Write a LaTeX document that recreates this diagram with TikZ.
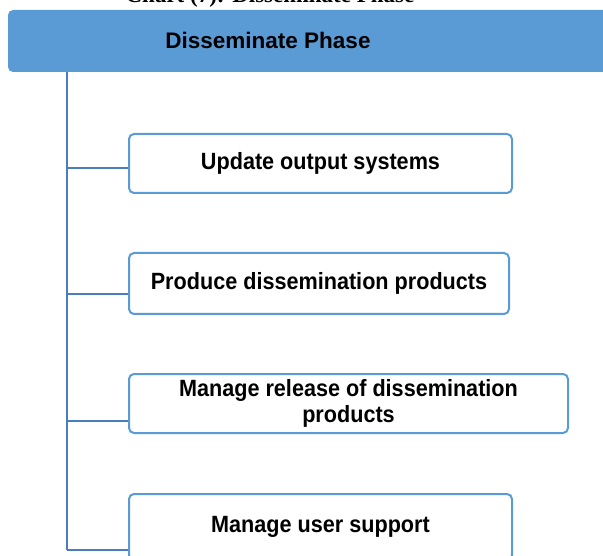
\documentclass[tikz,border=0pt]{standalone}
\usepackage{fontspec}
\setmainfont{Liberation Sans}
\newfontfamily\titlefont{Liberation Serif}
\newfontfamily\boxfont[FakeStretch=0.92]{Liberation Sans}
\usepackage{tikz}
\definecolor{myfill}{rgb}{0.357,0.608,0.835}
\definecolor{myline}{rgb}{0.29,0.494,0.733}

\begin{document}
\begin{tikzpicture}[x=1pt,y=-1pt,
    headbox/.style={fill=myfill,rounded corners=5pt,inner sep=0pt,
      minimum width=640pt,minimum height=62pt},
    stepbox/.style={draw=myfill,line width=2pt,fill=white,rounded corners=5pt,
      inner sep=0pt,font=\boxfont\fontsize{23.5}{26}\selectfont\bfseries,align=center},
    link/.style={myline,line width=2pt}]
  \useasboundingbox (0,0) rectangle (603,556);
  \node[font=\titlefont\fontsize{23}{26}\selectfont\bfseries,anchor=base] (title) at (270,3) {Chart (7): Disseminate Phase};
  \node[headbox] (head) at (328,41) {};
    \node[font=\fontsize{22.5}{26}\selectfont\bfseries] (headlbl) at (268,40) {Disseminate Phase};
  % the four steps
  \node[stepbox,minimum width=383pt,minimum height=59pt] (b1) at (320.5,163.5) {Update output systems};
  \node[stepbox,minimum width=380pt,minimum height=61pt] (b2) at (319,283.5) {Produce dissemination products};
  \node[stepbox,minimum width=439pt,minimum height=59pt] (b3) at (348.5,403.5) {Manage release of dissemination\\products};
  \node[stepbox,minimum width=383pt,minimum height=66pt] (b4) at (320.5,527) {Manage user support};
  % trunk and branches
  \foreach \k/\y in {1/168,2/294,3/421,4/550}
    \coordinate (k\k) at (67,\y);
  \draw[link,line width=2.5pt] (head.south -| k1) -- (k4);
  \foreach \k in {1,2,3,4}
    \draw[link] (k\k) -- (k\k -| b\k.west);
\end{tikzpicture}
\end{document}
